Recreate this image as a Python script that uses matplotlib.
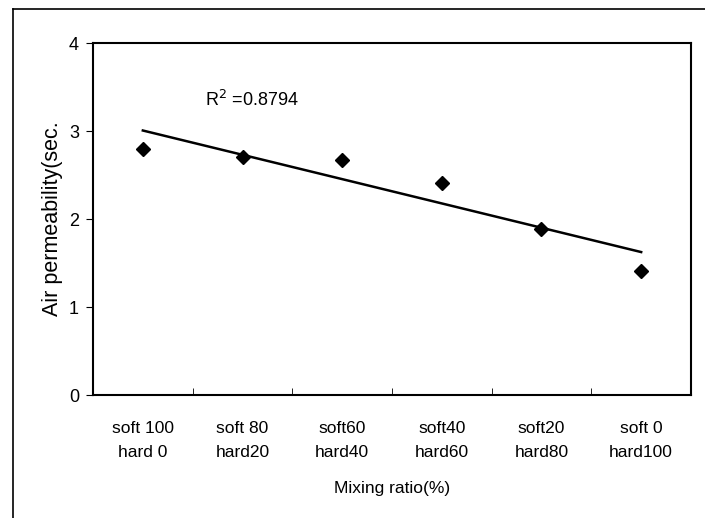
import matplotlib.pyplot as plt
import numpy as np
from matplotlib.lines import Line2D

plt.rcParams['font.family'] = ['Liberation Sans', 'DejaVu Sans']

categories = ['soft 100\nhard 0', 'soft 80\nhard20', 'soft60\nhard40',
              'soft40\nhard60', 'soft20\nhard80', 'soft 0\nhard100']
permeability = [2.80, 2.71, 2.67, 2.41, 1.89, 1.41]
r2_label = 'R$^2$ =0.8794'

x = np.arange(1, len(categories) + 1)
y = np.array(permeability)

# linear trendline (Excel style)
slope, intercept = np.polyfit(x, y, 1)
fit = slope * x + intercept

fig = plt.figure(figsize=(7.05, 5.18), dpi=100)
ax = fig.add_axes([93 / 705, 1 - 395 / 518, 598 / 705, 352 / 518])

ax.plot(x, fit, color='black', lw=1.8)
ax.plot(x, y, 'D', color='black', markersize=7, linestyle='none')

ax.set_xlim(0.5, len(categories) + 0.5)
ax.set_ylim(0, 4)
ax.set_yticks([0, 1, 2, 3, 4])
ax.set_xticks(x)
ax.set_xticklabels(categories, fontsize=12.5, linespacing=1.75)
ax.set_xticks(np.arange(1.5, len(categories)), minor=True)
ax.tick_params(axis='x', which='major', length=0, pad=19)
ax.tick_params(axis='x', which='minor', direction='in', length=5)
ax.tick_params(axis='y', direction='out', length=5, labelsize=13, pad=5)

for s in ax.spines.values():
    s.set_linewidth(1.5)

ax.set_ylabel('Air permeability(sec.', fontsize=15.5, labelpad=4)
ax.set_xlabel('Mixing ratio(%)', fontsize=12.5, labelpad=15)

ax.text(1.62, 3.35, r2_label, fontsize=13, va='center')

# outer chart border (cut off at right and bottom)
fig.add_artist(Line2D([13 / 705, 13 / 705], [0, 1 - 9 / 518],
                      transform=fig.transFigure, color='black', lw=1.2))
fig.add_artist(Line2D([13 / 705, 1], [1 - 9 / 518, 1 - 9 / 518],
                      transform=fig.transFigure, color='black', lw=1.2))

fig.savefig('out.png', dpi=100)
